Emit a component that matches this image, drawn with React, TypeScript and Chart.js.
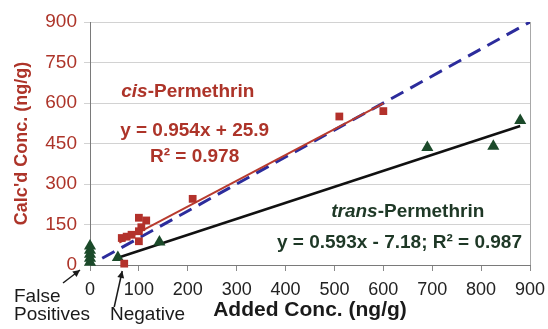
import React, { useEffect, useRef } from "react";
import { Chart, registerables } from "chart.js";

Chart.register(...registerables);

// Data
const cisAdded = [65, 75, 85, 100, 115, 105, 100, 100, 210, 510, 600, 70];
const cisCalc = [100, 105, 112, 175, 165, 140, 125, 88, 245, 550, 570, 5];
const transAdded = [0, 0, 0, 0, 0, 57, 142, 690, 825, 880];
const transCalc = [10, 25, 40, 55, 70, 28, 85, 435, 440, 535];
const oneToOneX = [25, 900];
const cisSlope = 0.954;
const cisIntercept = 25.9;
const cisFitRange = [60, 600];
const transSlope = 0.593;
const transIntercept = -7.18;
const transFitRange = [57, 880];
const xTickValues = [0, 100, 200, 300, 400, 500, 600, 700, 800, 900];
const yTickValues = [0, 150, 300, 450, 600, 750, 900];

const FONT = "'Liberation Sans', Arial, sans-serif";
const RED = "#ad3429";
const GREEN = "#1b4a2a";
const DARKGREEN = "#1e3826";
const BLUE = "#2c2c9c";

const overlay = {
  id: "overlay",
  beforeDatasetsDraw(chart: any) {
    const { ctx, chartArea } = chart;
    ctx.save();
    ctx.strokeStyle = "#a8a8a8";
    ctx.lineWidth = 1;
    ctx.beginPath();
    ctx.moveTo(Math.round(chartArea.right) + 0.5, chartArea.top);
    ctx.lineTo(Math.round(chartArea.right) + 0.5, chartArea.bottom);
    ctx.stroke();
    ctx.restore();
  },
  afterDatasetsDraw(chart: any) {
    const { ctx } = chart;
    const xs = chart.scales.x;
    const ys = chart.scales.y;
    const X = (v: number) => xs.getPixelForValue(v);
    const Y = (v: number) => ys.getPixelForValue(v);
    ctx.save();
    ctx.textBaseline = "middle";
    ctx.textAlign = "center";
    const drawMixed = (parts: [string, string][], cx: number, cy: number, color: string) => {
      let total = 0;
      parts.forEach(([t, f]) => { ctx.font = f; total += ctx.measureText(t).width; });
      let x = cx - total / 2;
      ctx.fillStyle = color;
      ctx.textAlign = "left";
      parts.forEach(([t, f]) => { ctx.font = f; ctx.fillText(t, x, cy); x += ctx.measureText(t).width; });
      ctx.textAlign = "center";
    };
    drawMixed([["cis", `italic bold 19px ${FONT}`], ["-Permethrin", `bold 19px ${FONT}`]], X(200), Y(641), RED);
    ctx.fillStyle = RED;
    ctx.font = `bold 19px ${FONT}`;
    ctx.fillText("y = 0.954x + 25.9", X(214), Y(496));
    ctx.fillText("R² = 0.978", X(214), Y(400));
    drawMixed([["trans", `italic bold 19px ${FONT}`], ["-Permethrin", `bold 19px ${FONT}`]], X(650), Y(196), DARKGREEN);
    ctx.fillStyle = DARKGREEN;
    ctx.font = `bold 19px ${FONT}`;
    ctx.fillText("y = 0.593x - 7.18; R² = 0.987", X(633), Y(81));

    // notes outside the plot
    ctx.fillStyle = "#1a1a1a";
    ctx.textAlign = "left";
    const ox = X(0);
    const oy = Y(0);
    ctx.font = `19px ${FONT}`;
    ctx.fillText("False", ox - 76, oy + 32);
    ctx.fillText("Positives", ox - 76, oy + 50);
    ctx.fillText("Negative", ox + 20, oy + 50);

    const arrow = (x1: number, y1: number, x2: number, y2: number) => {
      ctx.strokeStyle = "#1a1a1a";
      ctx.fillStyle = "#1a1a1a";
      ctx.lineWidth = 1.5;
      ctx.beginPath();
      ctx.moveTo(x1, y1);
      ctx.lineTo(x2, y2);
      ctx.stroke();
      const a = Math.atan2(y2 - y1, x2 - x1);
      const L = 7, W = 3.5;
      ctx.beginPath();
      ctx.moveTo(x2, y2);
      ctx.lineTo(x2 - L * Math.cos(a) + W * Math.sin(a), y2 - L * Math.sin(a) - W * Math.cos(a));
      ctx.lineTo(x2 - L * Math.cos(a) - W * Math.sin(a), y2 - L * Math.sin(a) + W * Math.cos(a));
      ctx.closePath();
      ctx.fill();
    };
    arrow(ox - 27, oy + 18, ox - 10, oy + 5);
    const nx = X(cisAdded[cisAdded.length - 1]);
    arrow(nx - 10, oy + 42, nx - 2, oy + 6);
    ctx.restore();
  },
};

export default function App() {
  const ref = useRef<HTMLCanvasElement | null>(null);
  useEffect(() => {
    document.body.style.margin = "0";
    const canvas = ref.current!;
    const toPts = (xs: number[], ys: number[]) => xs.map((x, i) => ({ x, y: ys[i] }));
    const fitPts = (r: number[], m: number, b: number) => r.map((x) => ({ x, y: m * x + b }));
    const chart = new Chart(canvas, {
      type: "scatter",
      data: {
        datasets: [
          {
            label: "cis",
            data: toPts(cisAdded, cisCalc),
            pointStyle: "rect",
            pointRadius: 5.5,
            backgroundColor: "#b3312b",
            borderColor: "#b3312b",
            borderWidth: 0,
            clip: 12,
          },
          {
            label: "trans",
            data: toPts(transAdded, transCalc),
            pointStyle: "triangle",
            pointRadius: 7,
            backgroundColor: GREEN,
            borderColor: GREEN,
            borderWidth: 0,
            clip: 12,
          },
          {
            label: "cis fit",
            data: fitPts(cisFitRange, cisSlope, cisIntercept),
            showLine: true,
            pointRadius: 0,
            borderColor: "#b83b2e",
            borderWidth: 2,
          },
          {
            label: "trans fit",
            data: fitPts(transFitRange, transSlope, transIntercept),
            showLine: true,
            pointRadius: 0,
            borderColor: "#111111",
            borderWidth: 2.5,
          },
          {
            label: "1:1",
            data: oneToOneX.map((x) => ({ x, y: x })),
            showLine: true,
            pointRadius: 0,
            borderColor: BLUE,
            borderWidth: 3,
            borderDash: [14, 8],
          },
        ],
      },
      options: {
        responsive: false,
        devicePixelRatio: 1,
        animation: false,
        layout: { padding: { top: 22, right: 18, left: 0, bottom: 0 } },
        plugins: { legend: { display: false }, tooltip: { enabled: false } },
        scales: {
          x: {
            type: "linear",
            min: 0,
            max: 900,
            afterBuildTicks: (s: any) => { s.ticks = xTickValues.map((v) => ({ value: v })); },
            afterFit: (s: any) => { s.height = 64; s.paddingLeft = 0; s.paddingRight = 0; },
            grid: { drawOnChartArea: false, drawTicks: true, tickLength: 6, color: "#8a8a8a" },
            border: { color: "#7a7a7a", width: 1 },
            ticks: { color: "#222", font: { family: FONT, size: 18 }, padding: 8, maxRotation: 0 },
            title: {
              display: true,
              text: "Added Conc. (ng/g)",
              color: "#1a1a1a",
              font: { family: FONT, size: 21, weight: "bold" },
              padding: { top: 0, bottom: 6 },
            },
          },
          y: {
            type: "linear",
            min: 0,
            max: 900,
            afterBuildTicks: (s: any) => { s.ticks = yTickValues.map((v) => ({ value: v })); },
            afterFit: (s: any) => { s.width = 90; s.paddingTop = 0; s.paddingBottom = 0; },
            grid: { color: "#d2d2d2", tickLength: 6, drawTicks: true },
            border: { color: "#7a7a7a", width: 1 },
            ticks: { color: RED, font: { family: FONT, size: 19 }, padding: 7 },
            title: {
              display: true,
              text: "Calc'd Conc. (ng/g)",
              color: RED,
              font: { family: FONT, size: 18, weight: "bold" },
              padding: { top: 11, bottom: 0 },
            },
          },
        },
      },
      plugins: [overlay],
    });
    return () => chart.destroy();
  }, []);
  return (
    <div style={{ width: 548, height: 329 }}>
      <canvas ref={ref} width={548} height={329} style={{ width: 548, height: 329, display: "block" }} />
    </div>
  );
}
